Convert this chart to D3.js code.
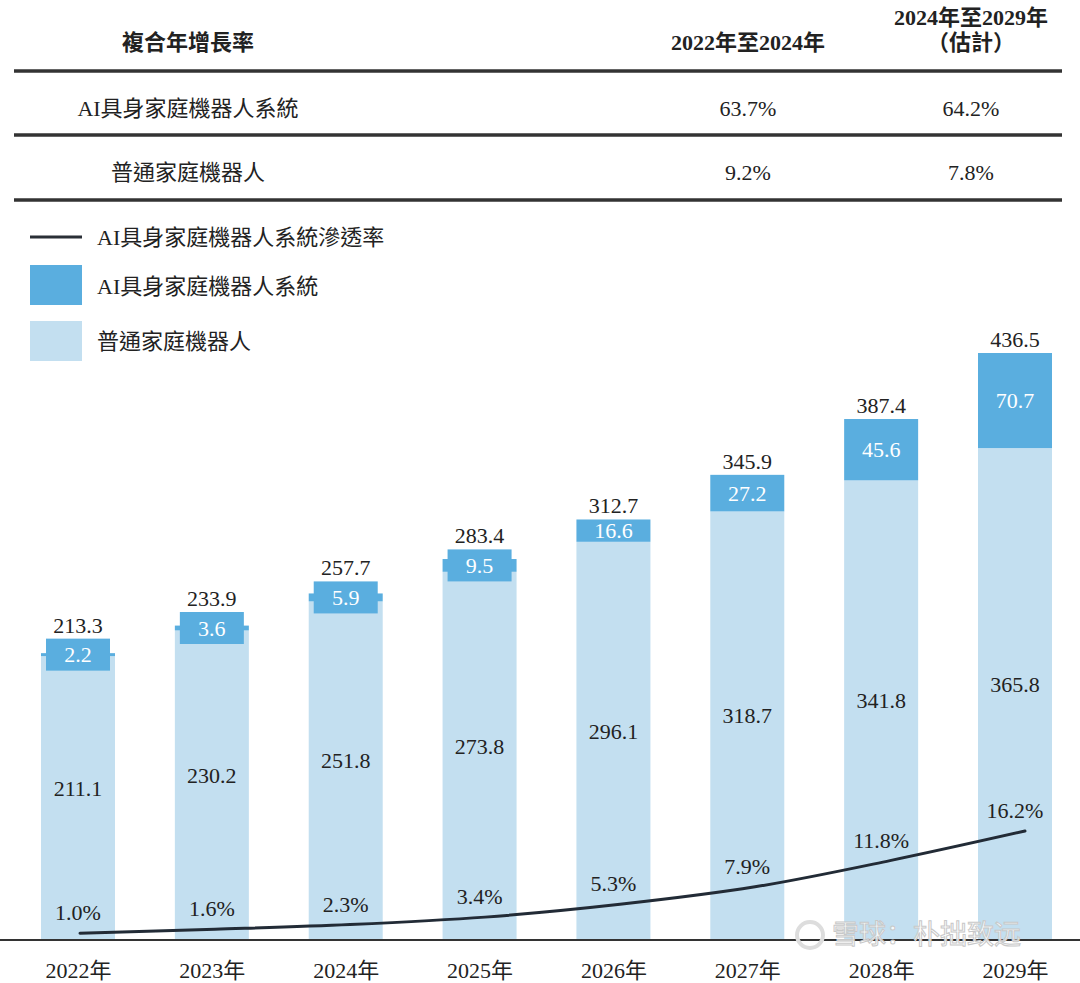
<!DOCTYPE html>
<html>
<head>
<meta charset="utf-8">
<script src="https://cdn.jsdelivr.net/npm/d3@7"></script>
<style>
    body { margin: 0; background: #fff; }
    svg text { font-family: "Liberation Serif", "Noto Sans CJK TC", serif; fill: #222; }
</style>
</head>
<body>
<div id="chart"></div>
<script>
    // data
    const years = ['2022年', '2023年', '2024年', '2025年', '2026年', '2027年', '2028年', '2029年'];
    const ordinary = [211.1, 230.2, 251.8, 273.8, 296.1, 318.7, 341.8, 365.8];
    const aiSystem = [2.2, 3.6, 5.9, 9.5, 16.6, 27.2, 45.6, 70.7];
    const totals = [213.3, 233.9, 257.7, 283.4, 312.7, 345.9, 387.4, 436.5];
    const penetration = [1.0, 1.6, 2.3, 3.4, 5.3, 7.9, 11.8, 16.2];

    const cagrHeader = ['複合年增長率', '2022年至2024年', ['2024年至2029年', '（估計）']];
    const cagrRows = ['AI具身家庭機器人系統', '普通家庭機器人'];
    const cagrFirst = ['63.7%', '9.2%'];
    const cagrSecond = ['64.2%', '7.8%'];

    const legendLabels = ['AI具身家庭機器人系統滲透率', 'AI具身家庭機器人系統', '普通家庭機器人'];

    const width = 1080;
    const height = 983;
    const darkBlue = '#5aaedf';
    const lightBlue = '#c3dff0';

    const svg = d3.select('#chart')
        .append('svg')
        .attr('width', width)
        .attr('height', height);

    //table
    const table = svg.append('g').classed('cagr-table', true);
    const colX = [188, 748, 971];

    table.append('text')
        .attr('x', colX[0]).attr('y', 50)
        .attr('text-anchor', 'middle')
        .style('font-size', '22px').style('font-weight', 'bold')
        .text(cagrHeader[0]);
    table.append('text')
        .attr('x', colX[1]).attr('y', 50)
        .attr('text-anchor', 'middle')
        .style('font-size', '22px').style('font-weight', 'bold')
        .text(cagrHeader[1]);
    cagrHeader[2].forEach((t, i) => {
        table.append('text')
            .attr('x', colX[2]).attr('y', 25 + i * 25)
            .attr('text-anchor', 'middle')
            .style('font-size', '22px').style('font-weight', 'bold')
            .text(t);
    });

    const rowY = [116, 180];
    cagrRows.forEach((r, i) => {
        table.append('text')
            .attr('x', colX[0]).attr('y', rowY[i])
            .attr('text-anchor', 'middle')
            .style('font-size', '22px')
            .text(r);
        table.append('text')
            .attr('x', colX[1]).attr('y', rowY[i])
            .attr('text-anchor', 'middle')
            .style('font-size', '22px')
            .text(cagrFirst[i]);
        table.append('text')
            .attr('x', colX[2]).attr('y', rowY[i])
            .attr('text-anchor', 'middle')
            .style('font-size', '22px')
            .text(cagrSecond[i]);
    });

    [71, 135, 200].forEach(y => {
        table.append('line')
            .attr('x1', 14).attr('x2', 1062)
            .attr('y1', y).attr('y2', y)
            .attr('stroke', '#333')
            .attr('stroke-width', 3.5);
    });

    //legend
    const legend = svg.append('g').classed('legend', true);
    legend.append('line')
        .attr('x1', 30).attr('x2', 82)
        .attr('y1', 237).attr('y2', 237)
        .attr('stroke', '#2a2f36')
        .attr('stroke-width', 3);
    legend.append('rect')
        .attr('x', 30).attr('y', 265)
        .attr('width', 52).attr('height', 40)
        .attr('fill', darkBlue);
    legend.append('rect')
        .attr('x', 30).attr('y', 321)
        .attr('width', 52).attr('height', 40)
        .attr('fill', lightBlue);
    [237, 286, 341].forEach((y, i) => {
        legend.append('text')
            .attr('x', 97).attr('y', y)
            .attr('dy', '0.35em')
            .style('font-size', '22px')
            .text(legendLabels[i]);
    });

    //scales
    const baseY = 940;
    const x = d3.scalePoint().domain(years).range([78, 1015]);
    const xLine = d3.scalePoint().domain(years).range([80, 1025]);
    const y = d3.scaleLinear().domain([0, 436.5]).range([baseY, 353]);
    const yRate = d3.scaleLinear().domain([0, 16.2]).range([baseY, 831]);
    const barW = 74;

    const rows = years.map((yr, i) => ({
        year: yr,
        ordinary: ordinary[i],
        ai: aiSystem[i],
        total: totals[i],
        rate: penetration[i]
    }));

    const g = svg.append('g').classed('bars', true);

    //ordinary segment
    g.selectAll('rect.ordinary')
        .data(rows)
        .join('rect')
        .classed('ordinary', true)
        .attr('x', d => x(d.year) - barW / 2)
        .attr('width', barW)
        .attr('y', d => y(d.ordinary))
        .attr('height', d => baseY - y(d.ordinary))
        .attr('fill', lightBlue);

    //ai segment (real height)
    g.selectAll('rect.ai')
        .data(rows)
        .join('rect')
        .classed('ai', true)
        .attr('x', d => x(d.year) - barW / 2)
        .attr('width', barW)
        .attr('y', d => y(d.ordinary + d.ai))
        .attr('height', d => y(d.ordinary) - y(d.ordinary + d.ai))
        .attr('fill', darkBlue);

    //label box for thin ai segments
    const minBox = 32;
    function boxOf(d) {
        const top = y(d.ordinary + d.ai);
        const bottom = y(d.ordinary);
        const h = bottom - top;
        if (h >= 20) return { top, bottom, inset: 0 };
        const mid = (top + bottom) / 2;
        return { top: mid - minBox / 2, bottom: mid + minBox / 2, inset: 5 };
    }

    g.selectAll('rect.ai-box')
        .data(rows.filter(d => boxOf(d).inset > 0))
        .join('rect')
        .classed('ai-box', true)
        .attr('x', d => x(d.year) - barW / 2 + boxOf(d).inset)
        .attr('width', d => barW - 2 * boxOf(d).inset)
        .attr('y', d => boxOf(d).top)
        .attr('height', d => boxOf(d).bottom - boxOf(d).top)
        .attr('fill', darkBlue);

    //ai labels
    g.selectAll('text.ai-label')
        .data(rows)
        .join('text')
        .classed('ai-label', true)
        .attr('x', d => x(d.year))
        .attr('y', d => (boxOf(d).top + boxOf(d).bottom) / 2)
        .attr('dy', '0.35em')
        .attr('text-anchor', 'middle')
        .style('font-size', '22px')
        .style('fill', '#fff')
        .text(d => d.ai.toFixed(1));

    //ordinary labels
    g.selectAll('text.ord-label')
        .data(rows)
        .join('text')
        .classed('ord-label', true)
        .attr('x', d => x(d.year))
        .attr('y', d => (y(d.ordinary) + baseY) / 2 - 10)
        .attr('dy', '0.35em')
        .attr('text-anchor', 'middle')
        .style('font-size', '22px')
        .text(d => d.ordinary.toFixed(1));

    //total labels
    g.selectAll('text.total-label')
        .data(rows)
        .join('text')
        .classed('total-label', true)
        .attr('x', d => x(d.year))
        .attr('y', d => boxOf(d).top - 6)
        .attr('text-anchor', 'middle')
        .style('font-size', '22px')
        .text(d => d.total.toFixed(1));

    //penetration line
    const line = d3.line()
        .x(d => xLine(d.year))
        .y(d => yRate(d.rate))
        .curve(d3.curveMonotoneX);
    svg.append('path')
        .datum(rows)
        .attr('d', line)
        .attr('fill', 'none')
        .attr('stroke', '#222b36')
        .attr('stroke-width', 3)
        .attr('stroke-linecap', 'round');

    svg.selectAll('text.rate-label')
        .data(rows)
        .join('text')
        .classed('rate-label', true)
        .attr('x', d => x(d.year))
        .attr('y', d => yRate(d.rate) - 13)
        .attr('text-anchor', 'middle')
        .style('font-size', '22px')
        .text(d => d.rate.toFixed(1) + '%');

    //x axis
    svg.append('line')
        .attr('x1', 0).attr('x2', width)
        .attr('y1', baseY).attr('y2', baseY)
        .attr('stroke', '#333')
        .attr('stroke-width', 2);

    const axis = svg.append('g')
        .attr('transform', `translate(0,${baseY})`)
        .call(d3.axisBottom(x).tickSize(0).tickPadding(22));
    axis.select('.domain').remove();
    axis.selectAll('text')
        .style('font-size', '22px')
        .style('font-family', '"Liberation Serif", "Noto Sans CJK TC", serif')
        .style('fill', '#222');

    //watermark
    svg.append('text')
        .attr('x', 832).attr('y', 944)
        .style('font-size', '27px')
        .style('font-family', '"Noto Sans CJK SC", sans-serif')
        .style('fill', '#fff')
        .style('fill-opacity', 0.85)
        .style('stroke', '#c8c8c8')
        .style('stroke-width', 1)
        .text('雪球：朴拙致远');
    svg.append('circle')
        .attr('cx', 810).attr('cy', 935)
        .attr('r', 13)
        .attr('fill', 'none')
        .attr('stroke', '#ddd')
        .attr('stroke-width', 4);
</script>
</body>
</html>
